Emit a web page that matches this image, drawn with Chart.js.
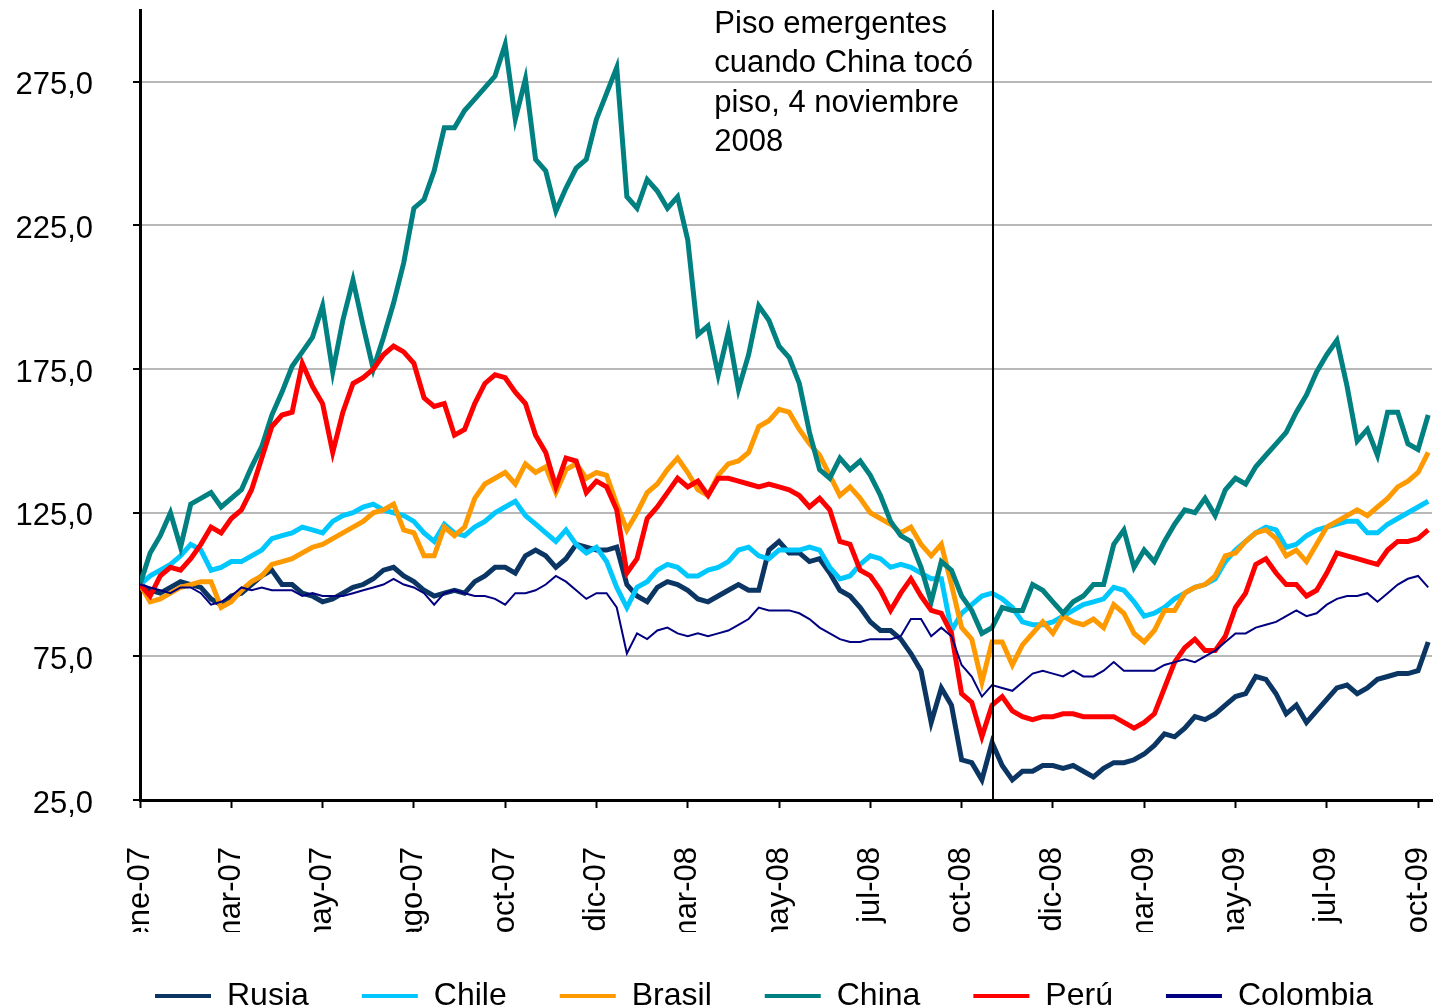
<!DOCTYPE html>
<html>
<head>
<meta charset="utf-8">
<script src="https://cdn.jsdelivr.net/npm/chart.js@4.4.1/dist/chart.umd.min.js"></script>
<style>
  html, body { margin: 0; padding: 0; background: #fff; }
  canvas { display: block; }
</style>
</head>
<body>
<canvas id="chart" width="1435" height="1008"></canvas>
<script>
// ===== DATA =====
// days counted from 1 Jan 2007
const days = [0,8,16,24,32,40,48,56,64,72,80,88,96,104,112,120,128,136,144,152,160,168,176,184,192,200,208,216,224,232,240,248,
  256,264,272,280,288,296,304,312,320,328,336,344,352,360,368,376,384,392,400,408,416,424,432,440,448,456,464,472,480,488,496,504,
  512,520,528,536,544,552,560,568,576,584,592,600,608,616,624,632,640,648,656,664,672,680,688,696,704,712,720,728,736,744,752,760,
  768,776,784,792,800,808,816,824,832,840,848,856,864,872,880,888,896,904,912,920,928,936,944,952,960,968,976,984,992,1000,1008,1016];

const rusia = [100,98,97,99,101,100,99,95,93,96,97,100,103,105,100,100,
  97,96,94,95,97,99,100,102,105,106,103,101,98,96,97,98,
  97,101,103,106,106,104,110,112,110,106,109,114,113,112,112,113,
  100,96,94,99,101,100,98,95,94,96,98,100,98,98,112,115,
  111,111,108,109,104,98,96,92,87,84,84,81,76,70,52,64,
  58,39,38,32,45,37,32,35,35,37,37,36,37,35,33,36,
  38,38,39,41,44,48,47,50,54,53,55,58,61,62,68,67,
  62,55,58,52,56,60,64,65,62,64,67,68,69,69,70,80];

const chile = [100,103,105,107,110,114,112,105,106,108,108,110,112,116,117,118,
  120,119,118,122,124,125,127,128,126,125,124,122,118,115,121,118,
  117,120,122,125,127,129,124,121,118,115,119,114,111,113,108,99,
  92,99,101,105,107,106,103,103,105,106,108,112,113,110,109,112,
  112,112,113,112,106,102,103,107,110,109,106,107,106,104,102,102,
  84,90,93,96,97,95,92,87,86,86,87,89,91,93,94,95,
  99,98,94,89,90,92,95,97,99,100,102,108,112,115,118,120,
  119,113,114,117,119,120,121,122,122,118,118,121,123,125,127,129];

const brasil = [100,94,95,97,99,100,101,101,92,94,98,101,103,107,108,109,
  111,113,114,116,118,120,122,125,126,128,119,118,110,110,120,117,
  120,130,135,137,139,135,142,139,141,132,140,142,137,139,138,128,
  119,125,132,135,140,144,139,133,131,138,142,143,146,155,157,161,
  160,154,149,145,138,131,134,130,125,123,121,118,120,114,110,114,
  100,85,81,66,80,80,72,79,83,87,83,89,87,86,88,85,
  93,90,83,80,84,91,91,97,99,100,103,110,111,115,118,119,
  116,110,112,108,114,120,122,124,126,124,127,130,134,136,139,146];

const china = [100,111,117,125,113,128,130,132,127,130,133,141,148,159,167,176,
  181,186,197,174,192,206,190,175,186,198,212,231,234,244,259,259,
  265,269,273,277,288,262,276,248,244,230,238,245,248,262,271,280,
  235,231,241,237,231,235,220,187,190,173,188,168,180,197,192,183,
  179,170,153,140,137,144,140,143,138,131,122,117,115,106,94,108,
  105,96,91,83,85,92,91,91,100,98,94,90,94,96,100,100,
  114,119,106,112,108,115,121,126,125,130,124,133,137,135,141,145,
  149,153,160,166,174,180,185,169,150,154,145,160,160,149,147,159];

const peru = [100,96,103,106,105,109,114,120,118,123,126,133,144,155,159,160,
  177,169,163,146,160,170,172,175,180,183,181,177,165,162,163,152,
  154,163,170,173,172,167,163,152,146,134,144,143,132,136,134,126,
  104,109,123,127,132,137,134,136,131,137,137,136,135,134,135,134,
  133,131,127,130,126,115,114,105,103,98,91,97,102,96,91,90,
  83,62,59,47,58,61,56,54,53,54,54,55,55,54,54,54,
  54,52,50,52,55,64,73,78,81,77,77,82,92,97,107,109,
  104,100,100,96,98,104,111,110,109,108,107,112,115,115,116,119];

const colombia = [100,99,98,97,99,99,97,93,94,96,99,98,99,98,98,98,
  96,97,96,96,96,97,98,99,100,102,100,99,97,93,97,98,
  97,96,96,95,93,97,97,98,100,103,101,98,95,97,97,92,
  76,83,81,84,85,83,82,83,82,83,84,86,88,92,91,91,
  91,90,88,85,83,81,80,80,81,81,81,82,88,88,82,85,
  82,72,68,61,65,64,63,66,69,70,69,68,70,68,68,70,
  73,70,70,70,70,72,73,74,73,75,77,80,83,83,85,86,
  87,89,91,89,90,93,95,96,96,97,94,97,100,102,103,99];

const tickDays = [0,72,144,216,288,360,432,504,576,648,720,792,864,936,1008];
const tickLabels = ['ene-07','mar-07','may-07','ago-07','oct-07','dic-07','mar-08','may-08',
  'jul-08','oct-08','dic-08','mar-09','may-09','jul-09','oct-09'];
const yTicks = [25,75,125,175,225,275];

const floorDay = 673; // 4 nov 2008
const noteDay = 453;
const noteLines = ['Piso emergentes', 'cuando China tocó', 'piso, 4 noviembre', '2008'];

// ===== CHART =====
const FONT = "'Liberation Sans', Arial, sans-serif";
Chart.defaults.font.family = FONT;
Chart.defaults.font.size = 31;
Chart.defaults.color = '#000';

const series = [
  { label: 'Rusia', data: rusia, color: '#0b3563', width: 5 },
  { label: 'Chile', data: chile, color: '#00c8ff', width: 5 },
  { label: 'Brasil', data: brasil, color: '#ff9900', width: 5 },
  { label: 'China', data: china, color: '#008080', width: 5 },
  { label: 'Perú', data: peru, color: '#ff0000', width: 5 },
  { label: 'Colombia', data: colombia, color: '#000080', width: 2 }
];

const notePlugin = {
  id: 'note',
  afterLayout(chart) {
    const lg = chart.legend;
    const pad = lg.options.labels.padding;
    lg.top = 996 - pad - 16;
    lg.bottom = chart.height + 4; // legend is clipped to its box
    const startX = (lg.left + pad + lg.right - lg.lineWidths[0]) / 2;
    const dx = 155 - startX;
    lg.left += dx; lg.right += dx;
  },
  afterDatasetsDraw(chart) {
    const { ctx, chartArea, scales } = chart;
    const x = Math.round(scales.x.getPixelForValue(floorDay));
    ctx.save();
    ctx.strokeStyle = '#000';
    ctx.lineWidth = 2;
    ctx.beginPath();
    ctx.moveTo(x, chartArea.top);
    ctx.lineTo(x, chartArea.bottom);
    ctx.stroke();
    ctx.fillStyle = '#000';
    ctx.font = '31px ' + FONT;
    ctx.textBaseline = 'middle';
    const tx = scales.x.getPixelForValue(noteDay);
    noteLines.forEach((t, i) => ctx.fillText(t, tx, 24.5 + i * 39.4));
    ctx.restore();
  }
};

new Chart(document.getElementById('chart'), {
  type: 'line',
  data: {
    datasets: series.map((s, i) => ({
      label: s.label,
      data: days.map((d, j) => ({ x: d, y: s.data[j] })),
      borderColor: s.color,
      backgroundColor: s.color,
      borderWidth: s.width,
      pointRadius: 0,
      tension: 0,
      fill: false,
      order: series.length - i
    }))
  },
  options: {
    responsive: false,
    animation: false,
    devicePixelRatio: 1,
    layout: { padding: { left: 0, right: 3, top: 10, bottom: 0 } },
    plugins: {
      tooltip: { enabled: false },
      legend: {
        position: 'bottom',
        maxHeight: 76,
        labels: {
          usePointStyle: true,
          pointStyle: 'line',
          pointStyleWidth: 56,
          padding: 53,
          color: '#000',
          font: { size: 32 },
          sort: (a, b) => a.datasetIndex - b.datasetIndex,
          generateLabels(chart) {
            return Chart.defaults.plugins.legend.labels.generateLabels(chart)
              .map(l => Object.assign(l, { lineWidth: 4 }));
          }
        }
      }
    },
    scales: {
      x: {
        type: 'linear',
        min: 0,
        max: 1019,
        afterBuildTicks(scale) { scale.ticks = tickDays.map(v => ({ value: v })); },
        afterFit(scale) {
          // labels are clipped to the scale box, like the cut-off months in the original
          scale.height = 1008 - 800 - scale.chart.legend.height;
          scale.paddingLeft = 0; scale.paddingRight = 0;
        },
        ticks: {
          autoSkip: false,
          maxRotation: 90,
          minRotation: 90,
          padding: 39,
          color: '#000',
          callback: (v, i) => tickLabels[i]
        },
        grid: { drawOnChartArea: false, drawTicks: true, tickLength: 8, tickColor: '#000', tickWidth: 2 },
        border: { color: '#000', width: 3 }
      },
      y: {
        min: 25,
        max: 300,
        afterBuildTicks(scale) { scale.ticks = yTicks.map(v => ({ value: v })); },
        afterFit(scale) {
          scale.width = 140;
          scale.paddingTop = 0; scale.paddingBottom = 0;
        },
        ticks: {
          padding: 40,
          labelOffset: 4,
          color: '#000',
          callback: v => v.toFixed(1).replace('.', ',')
        },
        grid: {
          color: c => (c.tick && c.tick.value === 25) ? 'rgba(0,0,0,0)' : '#b8b8b8',
          lineWidth: 2,
          borderDash: [2, 4],
          tickBorderDash: [],
          tickLength: 7,
          tickColor: '#000',
          tickWidth: 2
        },
        border: { color: '#000', width: 3 }
      }
    }
  },
  plugins: [notePlugin]
});
</script>
</body>
</html>
